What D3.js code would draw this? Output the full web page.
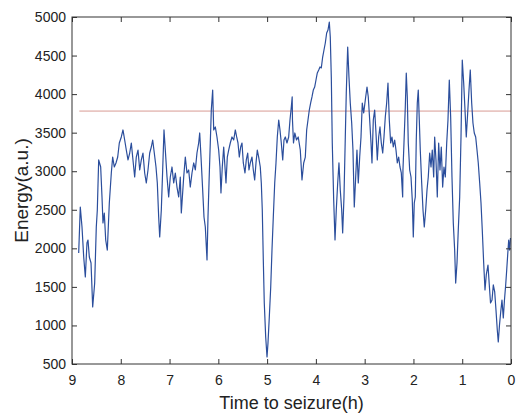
<!DOCTYPE html>
<html>
<head>
<meta charset="utf-8">
<script src="https://cdn.jsdelivr.net/npm/d3@7"></script>
<style>
  body { margin: 0; background: #fff; }
  svg { display: block; font-family: "Liberation Sans", Arial, Helvetica, sans-serif; }
</style>
</head>
<body>
<div id="chart"></div>
<script>
// hours before seizure, energy (a.u.)
const trace = [
  [8.863,1940],[8.830,2536],[8.795,2277],[8.760,1888],[8.727,1628],[8.693,2069],[8.672,2108],[8.645,1888],
  [8.610,1810],[8.576,1239],[8.535,1550],[8.502,2277],[8.481,2497],[8.453,3146],[8.412,3055],[8.385,2666],
  [8.365,2329],[8.338,2458],[8.309,2108],[8.276,1978],[8.235,2588],[8.194,2977],[8.166,3184],[8.133,3055],
  [8.098,3107],[8.063,3184],[8.030,3366],[7.989,3444],[7.955,3535],[7.920,3405],[7.887,3275],[7.852,3146],
  [7.817,3236],[7.784,3366],[7.750,3146],[7.715,2925],[7.682,3184],[7.647,3275],[7.612,3016],[7.579,3146],
  [7.545,3236],[7.510,2977],[7.477,2847],[7.442,3016],[7.407,3236],[7.374,3314],[7.346,3405],[7.313,3236],
  [7.278,3055],[7.251,2847],[7.223,2406],[7.202,2147],[7.169,2497],[7.141,3016],[7.114,3535],[7.087,3275],
  [7.052,2925],[7.018,2666],[6.985,2925],[6.950,3055],[6.915,2847],[6.882,2977],[6.848,2795],[6.813,2666],
  [6.780,2925],[6.759,2458],[6.745,2588],[6.710,2925],[6.677,3184],[6.643,2977],[6.608,3016],[6.575,2795],
  [6.540,2977],[6.505,3107],[6.472,3016],[6.438,3236],[6.403,3366],[6.382,3496],[6.355,3184],[6.321,2757],
  [6.294,2406],[6.267,2277],[6.232,1849],[6.212,2406],[6.191,2847],[6.165,3366],[6.144,3794],[6.116,4053],
  [6.095,3535],[6.062,3574],[6.028,3444],[5.993,3275],[5.966,3055],[5.946,2718],[5.919,3055],[5.890,3314],
  [5.864,3055],[5.843,2847],[5.816,3184],[5.788,3275],[5.755,3366],[5.720,3444],[5.685,3405],[5.652,3535],
  [5.624,3444],[5.597,3366],[5.570,3184],[5.542,3314],[5.515,3366],[5.488,3107],[5.454,2977],[5.427,3146],
  [5.398,3236],[5.372,3016],[5.345,3107],[5.310,3184],[5.283,3016],[5.255,2886],[5.228,3107],[5.201,3275],
  [5.173,3184],[5.140,3055],[5.119,2847],[5.099,2497],[5.078,1849],[5.058,1291],[5.029,850],[5.002,591],
  [4.982,772],[4.955,1110],[4.926,1499],[4.900,1978],[4.873,2406],[4.844,2847],[4.818,3107],[4.791,3444],
  [4.762,3664],[4.736,3535],[4.709,3366],[4.680,3146],[4.654,3405],[4.627,3444],[4.593,3366],[4.558,3444],
  [4.531,3664],[4.504,3833],[4.486,3963],[4.480,3664],[4.459,3366],[4.432,3496],[4.397,3405],[4.362,3444],
  [4.320,3275],[4.285,2886],[4.250,3107],[4.217,3184],[4.189,3535],[4.162,3664],[4.135,3794],[4.107,3885],
  [4.080,3963],[4.053,4053],[4.025,4092],[3.998,4183],[3.971,4274],[3.942,4313],[3.916,4352],[3.889,4339],
  [3.861,4481],[3.834,4572],[3.807,4663],[3.779,4793],[3.752,4831],[3.725,4935],[3.705,4741],[3.684,4222],
  [3.664,3366],[3.635,2627],[3.608,2108],[3.582,2497],[3.553,2847],[3.527,3107],[3.500,2757],[3.471,2497],
  [3.451,2199],[3.424,2666],[3.397,3444],[3.377,4014],[3.348,4611],[3.322,4222],[3.295,3885],[3.266,3625],
  [3.240,3275],[3.213,2536],[3.184,2925],[3.158,3275],[3.131,2847],[3.102,3184],[3.075,3444],[3.049,3885],
  [3.020,3755],[2.987,3924],[2.952,4092],[2.926,3963],[2.897,3664],[2.870,3366],[2.850,3107],[2.823,3664],
  [2.795,3794],[2.768,3496],[2.741,3146],[2.713,3444],[2.686,3574],[2.659,3366],[2.630,3236],[2.604,3444],
  [2.577,3703],[2.549,3885],[2.522,4144],[2.495,3664],[2.467,3366],[2.440,3444],[2.413,3314],[2.385,3405],
  [2.358,3275],[2.331,3107],[2.303,3184],[2.276,3055],[2.249,2977],[2.221,2666],[2.215,3016],[2.194,3366],
  [2.167,3833],[2.147,4274],[2.126,3963],[2.106,3366],[2.077,3016],[2.050,2925],[2.024,2627],[2.003,2147],
  [1.983,2588],[1.962,2666],[1.942,3405],[1.921,3885],[1.901,4053],[1.880,3664],[1.860,3275],[1.831,2847],
  [1.804,2497],[1.778,2277],[1.749,2497],[1.722,2757],[1.696,2925],[1.667,3236],[1.640,3055],[1.614,3275],
  [1.585,2925],[1.565,3444],[1.538,3146],[1.511,2666],[1.483,3366],[1.456,3016],[1.429,3314],[1.401,2795],
  [1.374,3055],[1.347,2925],[1.318,3366],[1.292,3664],[1.265,4183],[1.237,3703],[1.210,2925],[1.183,2329],
  [1.155,1978],[1.134,1550],[1.107,1810],[1.081,2238],[1.052,2666],[1.025,3444],[0.999,4442],[0.970,4144],
  [0.943,3794],[0.917,3444],[0.888,3755],[0.861,4053],[0.835,4313],[0.806,3885],[0.780,3625],[0.753,3496],
  [0.724,3444],[0.697,3275],[0.671,3107],[0.642,2847],[0.615,2588],[0.589,2238],[0.560,1810],[0.533,1460],
  [0.507,1655],[0.472,1784],[0.445,1525],[0.420,1291],[0.389,1330],[0.363,1525],[0.334,1434],[0.308,1200],
  [0.281,941],[0.261,785],[0.236,1006],[0.211,1175],[0.185,1330],[0.158,1097],[0.134,1330],[0.109,1525],
  [0.088,1719],[0.068,1914],[0.047,2108],[0.027,1978],[0.011,2134]
];

const threshold = 3780;
const thresholdSpan = [8.85, 0];
const xTicks = [9, 8, 7, 6, 5, 4, 3, 2, 1, 0];
const yTicks = [500, 1000, 1500, 2000, 2500, 3000, 3500, 4000, 4500, 5000];

const width = 516, height = 416;
const margin = { top: 17, right: 5, bottom: 52, left: 72 };

const x = d3.scaleLinear().domain([9, 0]).range([margin.left, width - margin.right]);
const y = d3.scaleLinear().domain([500, 5000]).range([height - margin.bottom, margin.top]);

const svg = d3.select("#chart").append("svg")
  .attr("width", width)
  .attr("height", height);

// threshold line
svg.append("line")
  .attr("x1", x(thresholdSpan[0]))
  .attr("x2", x(thresholdSpan[1]))
  .attr("y1", y(threshold))
  .attr("y2", y(threshold))
  .attr("stroke", "#d99a94")
  .attr("stroke-width", 1);

// energy trace
const line = d3.line().x(d => x(d[0])).y(d => y(d[1]));
svg.append("path")
  .datum(trace)
  .attr("fill", "none")
  .attr("stroke", "#2b4e9c")
  .attr("stroke-width", 1.2)
  .attr("stroke-linejoin", "round")
  .attr("d", line);

// axes, matlab style (ticks inward on all sides)
const axisStyle = g => {
  g.select(".domain").remove();
  g.selectAll(".tick line").attr("stroke", "#333");
  g.selectAll("text").attr("font-size", 14).attr("fill", "#222");
};

svg.append("g")
  .attr("transform", `translate(0,${y(500)})`)
  .call(d3.axisBottom(x).tickValues(xTicks).tickSizeInner(-5).tickSizeOuter(0).tickPadding(11).tickFormat(d3.format("d")))
  .call(axisStyle);

svg.append("g")
  .attr("transform", `translate(0,${y(5000)})`)
  .call(d3.axisTop(x).tickValues(xTicks).tickSizeInner(-5).tickSizeOuter(0).tickFormat(""))
  .call(axisStyle);

svg.append("g")
  .attr("transform", `translate(${x(9)},0)`)
  .call(d3.axisLeft(y).tickValues(yTicks).tickSizeInner(-5).tickSizeOuter(0).tickPadding(6).tickFormat(d3.format("d")))
  .call(axisStyle);

svg.append("g")
  .attr("transform", `translate(${x(0)},0)`)
  .call(d3.axisRight(y).tickValues(yTicks).tickSizeInner(-5).tickSizeOuter(0).tickFormat(""))
  .call(axisStyle);

// frame
svg.append("rect")
  .attr("x", x(9))
  .attr("y", y(5000))
  .attr("width", x(0) - x(9))
  .attr("height", y(500) - y(5000))
  .attr("fill", "none")
  .attr("stroke", "#333")
  .attr("stroke-width", 1);

// axis labels
svg.append("text")
  .attr("x", (x(9) + x(0)) / 2)
  .attr("y", 409)
  .attr("text-anchor", "middle")
  .attr("font-size", 18)
  .attr("fill", "#222")
  .text("Time to seizure(h)");

svg.append("text")
  .attr("transform", `translate(28,${(y(500) + y(5000)) / 2}) rotate(-90)`)
  .attr("text-anchor", "middle")
  .attr("font-size", 19)
  .attr("fill", "#222")
  .text("Energy(a.u.)");
</script>
</body>
</html>
